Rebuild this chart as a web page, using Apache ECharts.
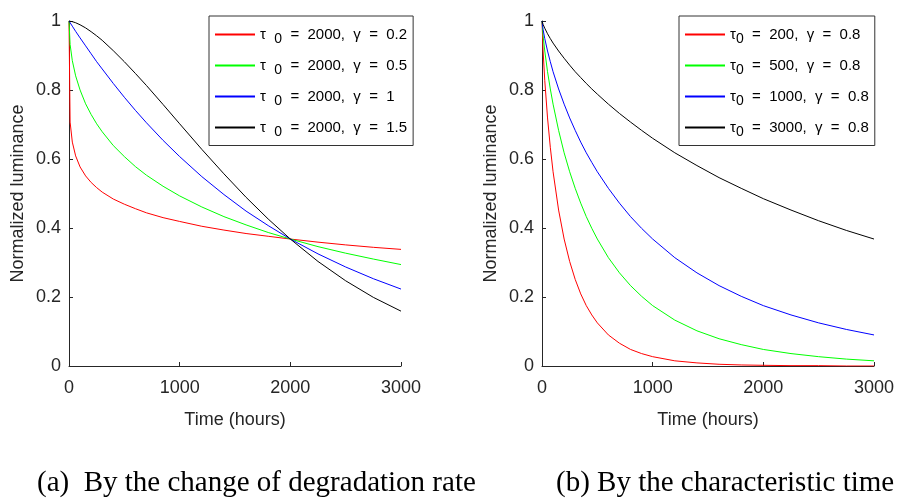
<!DOCTYPE html>
<html>
<head>
<meta charset="utf-8">
<script src="https://cdn.jsdelivr.net/npm/echarts@6/dist/echarts.min.js"></script>
<style>
  html, body { margin: 0; padding: 0; background: #fff; }
  #chart { width: 898px; height: 498px; }
</style>
</head>
<body>
<div id="chart"></div>
<script>
// (a) tau0 = 2000, different gamma
const timeA = [0, 10, 30, 60, 100, 150, 200, 250, 300, 400, 500, 600, 700, 850, 1000, 1200, 1400, 1600, 1800, 2000, 2250, 2500, 2750, 3000];
const lumA02 = [1, 0.707, 0.649, 0.609, 0.577, 0.551, 0.532, 0.517, 0.504, 0.484, 0.469, 0.456, 0.444, 0.430, 0.419, 0.405, 0.394, 0.384, 0.376, 0.368, 0.359, 0.351, 0.344, 0.338];
const lumA05 = [1, 0.932, 0.885, 0.841, 0.800, 0.760, 0.729, 0.702, 0.679, 0.639, 0.607, 0.578, 0.553, 0.521, 0.493, 0.461, 0.433, 0.409, 0.387, 0.368, 0.346, 0.327, 0.310, 0.294];
const lumA10 = [1, 0.995, 0.985, 0.970, 0.951, 0.928, 0.905, 0.882, 0.861, 0.819, 0.779, 0.741, 0.705, 0.654, 0.607, 0.549, 0.497, 0.449, 0.407, 0.368, 0.325, 0.287, 0.253, 0.223];
const lumA15 = [1, 1.000, 0.998, 0.995, 0.989, 0.980, 0.969, 0.957, 0.944, 0.914, 0.882, 0.848, 0.813, 0.758, 0.702, 0.628, 0.557, 0.489, 0.426, 0.368, 0.303, 0.247, 0.199, 0.159];
const tauA = [2000, 2000, 2000, 2000];
const gammaA = [0.2, 0.5, 1, 1.5];

// (b) gamma = 0.8, different tau0
const timeB = [0, 10, 25, 50, 75, 100, 150, 200, 250, 300, 350, 400, 450, 500, 600, 700, 800, 900, 1000, 1200, 1400, 1600, 1800, 2000, 2250, 2500, 2750, 3000];
const lumB200 = [1, 0.913, 0.827, 0.719, 0.634, 0.563, 0.452, 0.368, 0.303, 0.251, 0.209, 0.175, 0.148, 0.125, 0.090, 0.066, 0.048, 0.036, 0.027, 0.015, 0.009, 0.005, 0.003, 0.002, 0.001, 0.001, 0.000, 0.000];
const lumB500 = [1, 0.957, 0.913, 0.853, 0.803, 0.759, 0.683, 0.618, 0.563, 0.515, 0.472, 0.433, 0.399, 0.368, 0.314, 0.270, 0.233, 0.202, 0.175, 0.133, 0.102, 0.079, 0.062, 0.048, 0.036, 0.027, 0.020, 0.015];
const lumB1000 = [1, 0.975, 0.949, 0.913, 0.882, 0.853, 0.803, 0.759, 0.719, 0.683, 0.649, 0.618, 0.590, 0.563, 0.515, 0.472, 0.433, 0.399, 0.368, 0.314, 0.270, 0.233, 0.202, 0.175, 0.148, 0.125, 0.106, 0.090];
const lumB3000 = [1, 0.990, 0.979, 0.963, 0.949, 0.936, 0.913, 0.892, 0.872, 0.853, 0.836, 0.819, 0.803, 0.788, 0.759, 0.732, 0.707, 0.683, 0.660, 0.618, 0.581, 0.546, 0.515, 0.485, 0.452, 0.421, 0.393, 0.368];
const tauB = [200, 500, 1000, 3000];
const gammaB = [0.8, 0.8, 0.8, 0.8];

const colors = ["#ff0000", "#00ff00", "#0000ff", "#000000"];
const captionA = "(a)  By the change of degradation rate";
const captionB = "(b) By the characteristic time";

const sans = '"Liberation Sans", Arial, sans-serif';
const serifFont = '29px "Liberation Serif", "Times New Roman", serif';
const axisColor = "#262626";

const namesA = tauA.map((t, i) => `τ 0 = ${t}, γ = ${gammaA[i]}`);
const namesB = tauB.map((t, i) => `τ0 = ${t}, γ = ${gammaB[i]}`);

function pairs(xs, ys) {
  return xs.map((x, i) => [x, ys[i]]);
}

function lineSeries(name, xs, ys, color, idx) {
  return {
    name: name,
    type: "line",
    xAxisIndex: idx,
    yAxisIndex: idx,
    data: pairs(xs, ys),
    showSymbol: false,
    symbol: "none",
    smooth: false,
    color: color,
    itemStyle: { color: color },
    lineStyle: { color: color, width: 1 },
    emphasis: { disabled: true },
    animation: false
  };
}

function xAxisOf(idx) {
  return {
    gridIndex: idx,
    type: "value",
    min: 0,
    max: 3000,
    interval: 1000,
    name: "Time (hours)",
    nameLocation: "middle",
    nameGap: 45,
    nameTextStyle: { fontFamily: sans, fontSize: 18, color: axisColor },
    axisLine: { show: true, lineStyle: { color: axisColor, width: 1 } },
    axisTick: { show: true, inside: true, length: 4, lineStyle: { color: axisColor } },
    axisLabel: { fontFamily: sans, fontSize: 18, color: axisColor, margin: 13, formatter: v => String(v) },
    splitLine: { show: false }
  };
}

function yAxisOf(idx) {
  return {
    gridIndex: idx,
    type: "value",
    min: 0,
    max: 1,
    interval: 0.2,
    name: "Normalized luminance",
    nameLocation: "middle",
    nameGap: 42,
    nameTextStyle: { fontFamily: sans, fontSize: 18, color: axisColor },
    axisLine: { show: true, lineStyle: { color: axisColor, width: 1 } },
    axisTick: { show: true, inside: true, length: 4, lineStyle: { color: axisColor } },
    axisLabel: { fontFamily: sans, fontSize: 18, color: axisColor, margin: 8 },
    splitLine: { show: false }
  };
}

const legendRich = {
  g: { fontFamily: sans, fontSize: 15, color: "#000", lineHeight: 24 },
  s: { fontFamily: sans, fontSize: 14, color: "#000", lineHeight: 12, verticalAlign: "bottom" },
  m: { fontFamily: sans, fontSize: 15, color: "#000", lineHeight: 24 }
};

function legendOf(names, left, spaced) {
  return {
    orient: "vertical",
    left: left,
    top: 16,
    data: names,
    selectedMode: false,
    icon: "rect",
    itemWidth: 40,
    itemHeight: 2,
    itemGap: 11.5,
    padding: [11, 6, 6, 6],
    borderColor: "#333",
    borderWidth: 1,
    backgroundColor: "#fff",
    textStyle: { rich: legendRich },
    formatter: function (name) {
      const m = name.match(/= (\S+), γ = (\S+)/);
      return "{g|τ" + (spaced ? "  " : "") + "}{s|0}{m|  =  " + m[1] + ",  }{g|γ}{m|  =  " + m[2] + "}";
    }
  };
}

const series = [];
[lumA02, lumA05, lumA10, lumA15].forEach((ys, i) => series.push(lineSeries(namesA[i], timeA, ys, colors[i], 0)));
[lumB200, lumB500, lumB1000, lumB3000].forEach((ys, i) => series.push(lineSeries(namesB[i], timeB, ys, colors[i], 1)));

const chart = echarts.init(document.getElementById("chart"), null, { renderer: "canvas" });
chart.setOption({
  backgroundColor: "#fff",
  animation: false,
  grid: [
    { left: 69, top: 21, width: 332, height: 345, outerBoundsMode: "none" },
    { left: 542, top: 21, width: 332, height: 345, outerBoundsMode: "none" }
  ],
  xAxis: [xAxisOf(0), xAxisOf(1)],
  yAxis: [yAxisOf(0), yAxisOf(1)],
  legend: [legendOf(namesA, 209, true), legendOf(namesB, 679, false)],
  graphic: [
    { type: "text", x: 37, y: 483, style: { text: captionA, font: serifFont, fill: "#000", verticalAlign: "middle" } },
    { type: "text", x: 556, y: 483, style: { text: captionB, font: serifFont, fill: "#000", verticalAlign: "middle" } }
  ],
  series: series
});
</script>
</body>
</html>
